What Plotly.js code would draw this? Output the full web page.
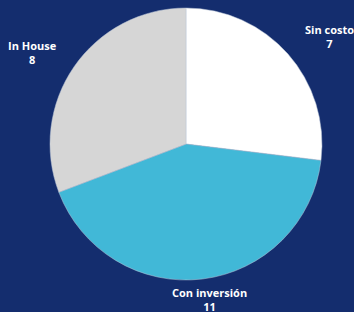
<!DOCTYPE html>
<html>
<head>
<meta charset="utf-8">
<script src="https://cdn.plot.ly/plotly-3.0.1.min.js"></script>
<style>html,body{margin:0;padding:0;background:#142d6e;}#chart{width:354px;height:312px;}</style>
</head>
<body>
<div id="chart"></div>
<script>
const categories = ["Sin costo", "Con inversión", "In House"];
const values = [7, 11, 8];
const colors = ["#ffffff", "#41b8d7", "#d6d6d6"];

const W = 354, H = 312;
const margin = {l: 50, r: 32, t: 8, b: 32};
const plotW = W - margin.l - margin.r, plotH = H - margin.t - margin.b;
const cx = margin.l + plotW / 2, cy = margin.t + plotH / 2;
const R = Math.min(plotW, plotH) / 2;
const fontSize = 11, lineH = 15, padX = 13, padY = 0, offset = 6;

const ctx = document.createElement("canvas").getContext("2d");
ctx.font = "bold " + fontSize + "px 'Open Sans'";

const total = values.reduce((a, b) => a + b, 0);
let cum = 0;
const annotations = categories.map((c, i) => {
  const mid = (cum + values[i] / 2) / total * 2 * Math.PI;
  cum += values[i];
  const vx = Math.sin(mid), vy = -Math.cos(mid);
  const px = cx + R * vx, py = cy + R * vy;
  const tw = Math.max(ctx.measureText(c).width, ctx.measureText(String(values[i])).width);
  const w = tw + 2 * padX, h = 2 * lineH + 2 * padY;
  const vs = 1 / Math.max(Math.abs(vx), Math.abs(vy));
  const x = px + (w / 2) * vx * vs + offset * vx;
  const y = py + (h / 2) * vy * vs + offset * vy;
  return {
    xref: "paper", yref: "paper",
    x: (x - margin.l) / plotW, y: 1 - (y - margin.t) / plotH,
    xanchor: "center", yanchor: "middle",
    text: "<b>" + c + "</b><br><b>" + values[i] + "</b>",
    showarrow: false, borderpad: 0, align: "center",
    font: {family: "Open Sans", size: fontSize, color: "#ffffff", weight: 800}
  };
});

Plotly.newPlot("chart", [{
  type: "pie",
  labels: categories,
  values: values,
  sort: false,
  direction: "clockwise",
  rotation: 0,
  marker: {colors: colors, line: {color: "#b8c4d6", width: 0.5}},
  textinfo: "none",
  hoverinfo: "none",
  showlegend: false
}], {
  width: W, height: H,
  margin: margin,
  paper_bgcolor: "#142d6e",
  plot_bgcolor: "#142d6e",
  showlegend: false,
  annotations: annotations
}, {displayModeBar: false, staticPlot: true});
</script>
</body>
</html>
